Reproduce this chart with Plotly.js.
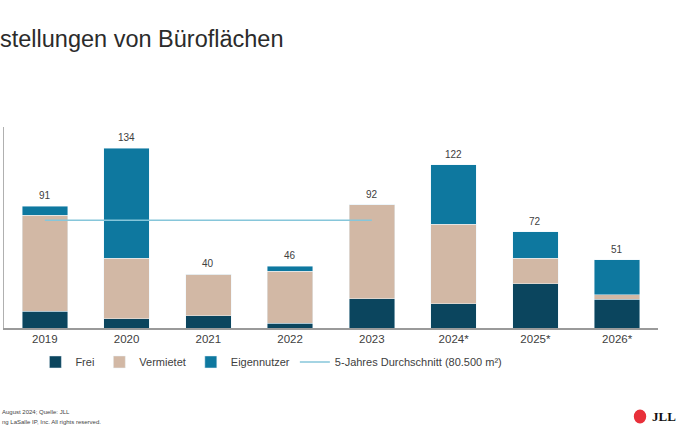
<!DOCTYPE html>
<html>
<head>
<meta charset="utf-8">
<script src="https://cdn.plot.ly/plotly-3.0.1.min.js"></script>
<style>
html,body{margin:0;padding:0;background:#fff;}
#chart{width:690px;height:430px;}
</style>
</head>
<body>
<div id="chart"></div>
<script>
var years = ["2019", "2020", "2021", "2022", "2023", "2024*", "2025*", "2026*"];
var frei = [12.5, 7, 9, 3.5, 22, 18, 33, 21.5];
var vermietet = [71.5, 45, 31, 39, 70, 59.5, 19, 3.5];
var eigennutzer = [7, 82, 0, 3.5, 0, 44.5, 20, 26];
var totalLabels = ["91", "134", "40", "46", "92", "122", "72", "51"];
var avgYears = ["2019", "2020", "2021", "2022", "2023"];
var avgValues = [80.5, 80.5, 80.5, 80.5, 80.5];

var FONT = "Liberation Sans, Arial, sans-serif";
var barLine = {color: "rgba(235,245,250,0.8)", width: 0.6};

var traces = [
  {type: "bar", name: "Frei", x: years, y: frei, marker: {color: "#0b455e", line: barLine}, hoverinfo: "skip"},
  {type: "bar", name: "Vermietet", x: years, y: vermietet, marker: {color: "#d2b8a5", line: barLine}, hoverinfo: "skip"},
  {type: "bar", name: "Eigennutzer", x: years, y: eigennutzer, marker: {color: "#0e789f", line: barLine}, hoverinfo: "skip"},
  {type: "scatter", mode: "lines", name: "5-Jahres Durchschnitt (80.500 m²)", x: avgYears, y: avgValues,
   line: {color: "#86c6da", width: 1.5}, hoverinfo: "skip"}
];

var annotations = years.map(function(y, i) {
  return {x: i, y: frei[i] + vermietet[i] + eigennutzer[i], text: totalLabels[i], showarrow: false,
          yanchor: "bottom", yshift: 3, font: {family: FONT, size: 10, color: "#404040"}};
});
annotations.push({xref: "paper", yref: "paper", x: -0.006, y: -0.42, xanchor: "left", yanchor: "middle",
  text: "August 2024; Quelle: JLL", showarrow: false, font: {family: FONT, size: 6, color: "#444"}});
annotations.push({xref: "paper", yref: "paper", x: -0.006, y: -0.47, xanchor: "left", yanchor: "middle",
  text: "ng LaSalle IP, Inc. All rights reserved.", showarrow: false, font: {family: FONT, size: 6, color: "#444"}});
annotations.push({xref: "paper", yref: "paper", x: 0.988, y: -0.44, xanchor: "left", yanchor: "middle",
  text: "<b>JLL</b>", showarrow: false, font: {family: "Liberation Serif, serif", size: 13, color: "#111"}});

var shapes = [
  {type: "circle", xref: "paper", yref: "paper", x0: 0.963, x1: 0.982, y0: -0.475, y1: -0.405,
   fillcolor: "#e8303a", line: {color: "#e8303a", width: 0}}
];

var layout = {
  width: 690, height: 430,
  margin: {l: 4, r: 31.5, t: 127, b: 102, pad: 0},
  paper_bgcolor: "#fff", plot_bgcolor: "#fff",
  barmode: "stack", bargap: 0.445,
  showlegend: true,
  title: {text: "stellungen von Büroflächen", xref: "container", yref: "container", x: 0, xanchor: "left",
          y: 0.909, yanchor: "middle", font: {family: FONT, size: 23.5, color: "#2b2b2b"}},
  xaxis: {type: "category", range: [-0.5, 7.5], showline: true, linecolor: "#9a9a9a", linewidth: 1.5,
          ticks: "", showgrid: false, zeroline: false, tickfont: {family: FONT, size: 11.5, color: "#404040"}, fixedrange: true},
  yaxis: {range: [0, 150], showline: true, linecolor: "#b0b0b0", linewidth: 1.5, showticklabels: false,
          ticks: "", showgrid: false, zeroline: false, fixedrange: true},
  legend: {orientation: "h", x: 0.048, xanchor: "left", y: -0.169, yanchor: "middle",
           font: {family: FONT, size: 11, color: "#404040"}, traceorder: "normal", itemwidth: 30},
  annotations: annotations,
  shapes: shapes
};

Plotly.newPlot("chart", traces, layout, {displayModeBar: false, staticPlot: true});
</script>
</body>
</html>
